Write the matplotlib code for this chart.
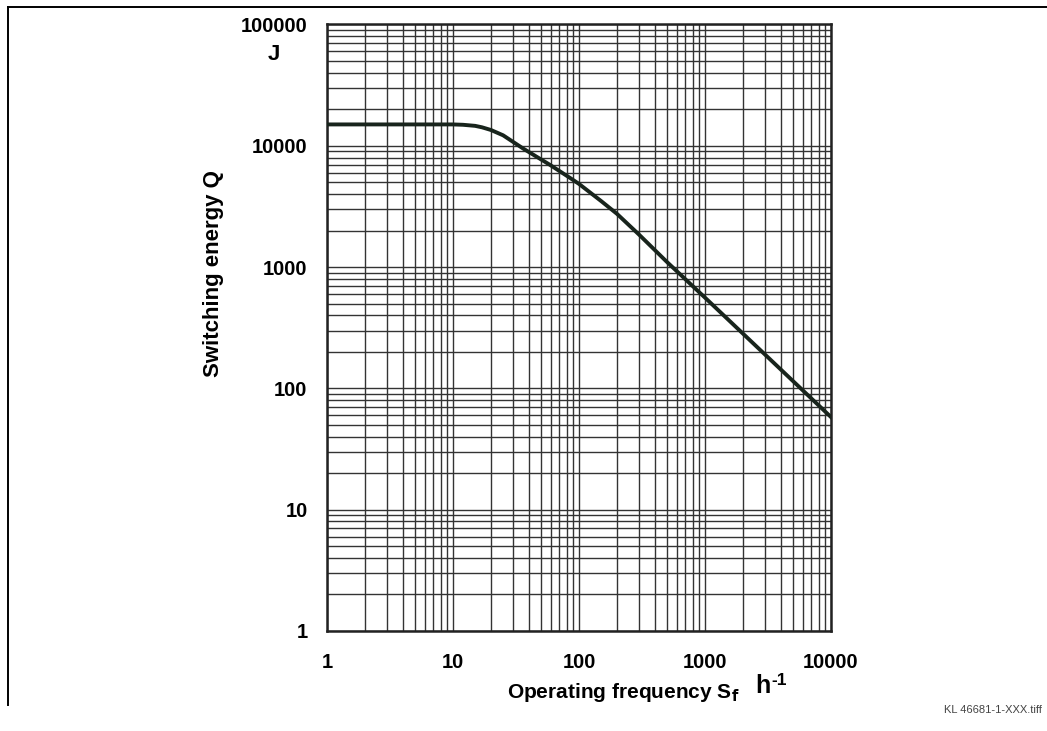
import matplotlib
matplotlib.use("Agg")
import matplotlib.pyplot as plt
from matplotlib.lines import Line2D
from matplotlib.ticker import FixedLocator, LogLocator, NullFormatter

plt.rcParams['font.family'] = ['Liberation Sans', 'DejaVu Sans']

# Curve (operating frequency in 1/h, switching energy in J)
freq = [1, 8, 10, 12, 15, 17, 20, 25, 36, 59, 85, 100, 150, 200, 300, 500, 1000, 10000]
energy = [15000, 15000, 15000, 14900, 14600, 14200, 13500, 12200, 9500, 6950,
          5430, 4850, 3500, 2750, 1850, 1100, 560, 58]

x_ticks = [1, 10, 100, 1000, 10000]
y_ticks = [1, 10, 100, 1000, 10000, 100000]

fig = plt.figure(figsize=(10.47, 7.31), dpi=100)
ax = fig.add_axes([0.3123, 0.1368, 0.4814, 0.8297])

ax.plot(freq, energy, color='#18241c', linewidth=2.8, solid_joinstyle='round', zorder=3)

ax.set_xscale('log')
ax.set_yscale('log')
ax.set_xlim(1, 10000)
ax.set_ylim(1, 100000)

ax.xaxis.set_major_locator(FixedLocator(x_ticks))
ax.yaxis.set_major_locator(FixedLocator(y_ticks))
ax.xaxis.set_minor_locator(LogLocator(base=10, subs=range(2, 10), numticks=20))
ax.yaxis.set_minor_locator(LogLocator(base=10, subs=range(2, 10), numticks=20))
ax.xaxis.set_minor_formatter(NullFormatter())
ax.yaxis.set_minor_formatter(NullFormatter())
ax.set_xticklabels([str(v) for v in x_ticks], fontsize=14.5, fontweight='bold')
ax.set_yticklabels([str(v) for v in y_ticks], fontsize=14.5, fontweight='bold')
ax.tick_params(which='both', length=0)
ax.tick_params(axis='x', pad=16)
ax.tick_params(axis='y', pad=14)

ax.grid(which='both', color='#333333', linewidth=1.0)
for s in ax.spines.values():
    s.set_linewidth(1.8)
    s.set_color('#222222')

# axis titles
fig.text(274 / 1047, 1 - 55 / 731, 'J', fontsize=16, fontweight='bold',
         ha='center', va='center')
fig.text(213 / 1047, 1 - 274 / 731, 'Switching energy Q', fontsize=16,
         fontweight='bold', rotation=90, ha='center', va='center')
fig.text(507 / 1047, 1 - 693 / 731, r'Operating frequency S$_\mathbf{f}$',
         fontsize=15, fontweight='bold', ha='left', va='center')
fig.text(755 / 1047, 1 - 693 / 731, 'h', fontsize=18,
         fontweight='bold', ha='left', va='baseline')
fig.text(771 / 1047, 1 - 685 / 731, '-1', fontsize=12.5,
         fontweight='bold', ha='left', va='baseline')

fig.text(1042 / 1047, 1 - 710 / 731, 'KL 46681-1-XXX.tiff', fontsize=8,
         color='#444444', ha='right', va='center')

# page frame lines (top and left)
fig.add_artist(Line2D([8 / 1047, 1.0], [1 - 7 / 731, 1 - 7 / 731],
                      color='black', linewidth=1.4))
fig.add_artist(Line2D([8 / 1047, 8 / 1047], [1 - 7 / 731, 1 - 705 / 731],
                      color='black', linewidth=1.4))

fig.savefig('out.png', dpi=100, facecolor='white')
